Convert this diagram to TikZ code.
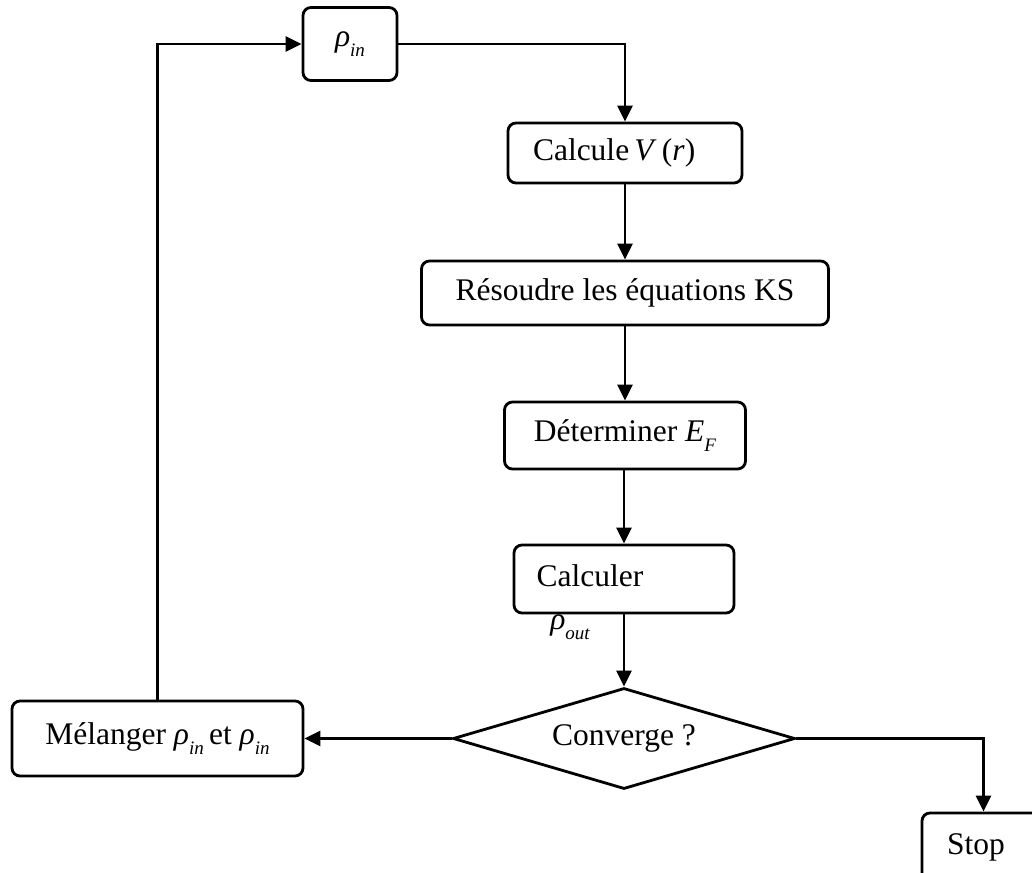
\documentclass[tikz,border=0pt]{standalone}
\usepackage{fontspec}
\setmainfont{Liberation Serif}
\usetikzlibrary{arrows.meta,shapes.geometric}
\newcommand{\mysub}[1]{\raisebox{-0.32em}{\fontsize{19}{19}\selectfont\itshape #1}}
\newcommand{\rh}{{\itshape ρ}}
\begin{document}
\begin{tikzpicture}[x=1pt,y=-1pt,
  font=\fontsize{31.5}{37}\selectfont,
  box/.style={draw, line width=2.8pt, rounded corners=8pt, inner sep=0pt},
  dia/.style={draw, line width=2.8pt, diamond, shape aspect=3.4, inner sep=0pt},
  arr/.style={line width=2.8pt, -{Triangle[length=16pt,width=15pt]}}]
\useasboundingbox (0,0) rectangle (1032,872);
\clip (0,0) rectangle (1032,872);
% nodes
\node[box, minimum width=94pt, minimum height=73pt] (rin) at (350,44) {\rh\mysub{in}};
\node[box, minimum height=60pt, inner xsep=25pt, text width=184pt, align=left] (calc) at (625,153) {Calcule\,\textit{V}\,(\textit{r})};
\node[box, minimum width=407pt, minimum height=64pt] (res) at (625,293) {Résoudre les équations KS};
\node[box, minimum width=241pt, minimum height=67pt] (det) at (625,435.5) {Déterminer \textit{E}\mysub{F}};
\node[box, minimum width=220pt, minimum height=68pt] (cal) at (624,579) {};
\node (caltxt) at (590,576) {Calculer};
\node (rout) at (570,627) {\rh\mysub{out}};
\node[dia, minimum width=342pt, minimum height=101pt] (conv) at (624,738.5) {Converge ?};
\node[box, minimum width=291pt, minimum height=75pt] (mel) at (157.5,738.5) {Mélanger \rh\mysub{in}\,et \rh\mysub{in}};
\node[box, minimum height=69pt, inner xsep=25pt, text width=73pt, align=left] (stop) at (983.5,847.5) {Stop};
% connectors
\draw[arr] (rin.east) -| (calc.north);
\draw[arr] (calc.south) -- (res.north);
\draw[arr] (res.south) -- (det.north);
\draw[arr] (det.south -| cal.north) -- (cal.north);
\draw[arr] (cal.south) -- (conv.north);
\draw[arr] (conv.west) -- (mel.east);
\draw[arr] (conv.east) -| (stop.north);
\draw[arr] (mel.north) |- (rin.west);
\end{tikzpicture}
\end{document}
